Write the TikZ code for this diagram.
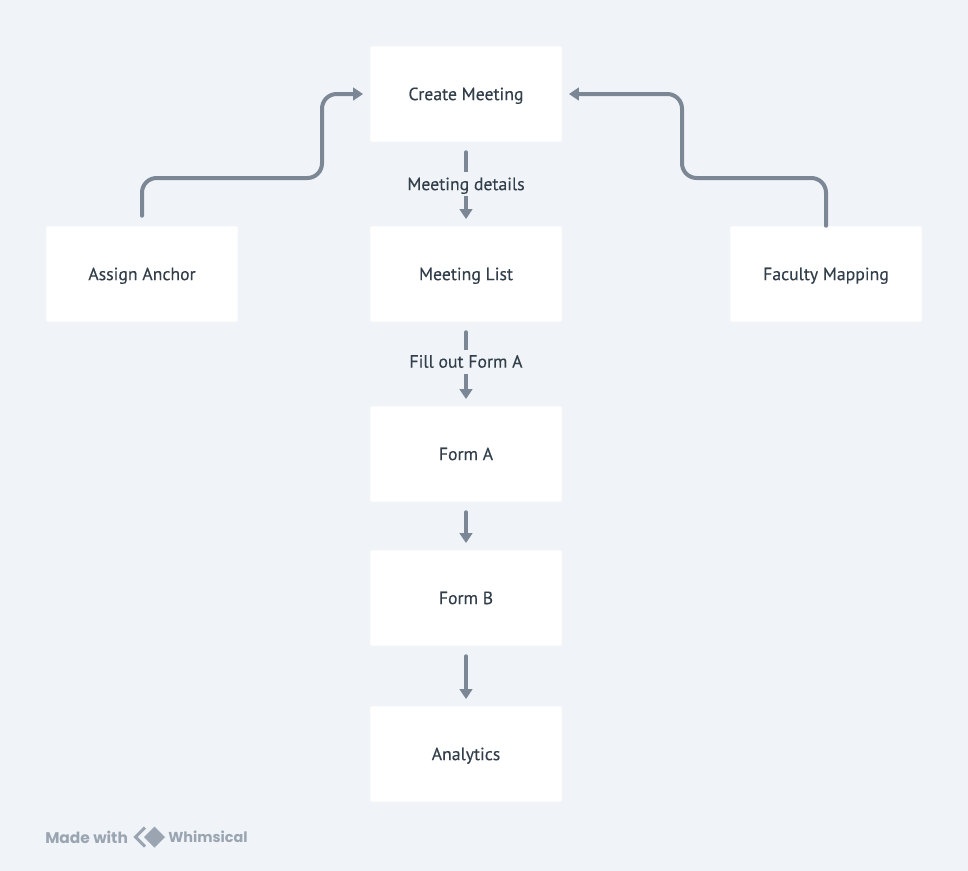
\documentclass[tikz,border=0pt]{standalone}
\usepackage{fontspec}
\setmainfont{PT Sans}
\newfontfamily\logofont{Poppins}
\usetikzlibrary{arrows.meta}
\definecolor{pagebg}{HTML}{F0F4F8}
\definecolor{linkcol}{HTML}{7B8794}
\definecolor{textcol}{HTML}{323F4B}
\definecolor{logocol}{HTML}{9AA5B1}
\newcommand{\boxfont}{\addfontfeature{FakeBold=0.25}\fontsize{13.3}{15}\selectfont}
\begin{document}
\begin{tikzpicture}[x=0.75pt,y=-0.75pt,
		box/.style={rectangle,fill=white,draw=black!4,line width=0.4pt,rounded corners=1.5pt,
			minimum width=144pt,minimum height=72pt,inner sep=0pt,text=textcol,
			text height=9.2pt,text depth=0pt,font=\boxfont},
		link/.style={draw=linkcol,line width=3pt,line cap=round,
			-{Triangle[length=7.5pt,width=9.5pt]},shorten >=5pt},
		linklabel/.style={fill=pagebg,inner xsep=0pt,inner ysep=0pt,minimum height=18pt,
			text=textcol,text height=9.2pt,text depth=0pt,font=\boxfont},
		logotext/.style={text=logocol,inner sep=0pt,font=\logofont\bfseries\fontsize{11.6}{14}\selectfont}]
	\useasboundingbox (0,0) rectangle (968,871);
	\fill[pagebg] (0,0) rectangle (968,871);

	\node [box] (create) at (466,94) {Create Meeting};
	\node [box] (list) at (466,274) {Meeting List};
	\node [box] (assign) at (142,274) {Assign Anchor};
	\node [box] (faculty) at (826,274) {Faculty Mapping};
	\node [box] (forma) at (466,454) {Form A};
	\node [box] (formb) at (466,598) {Form B};
	\node [box] (analytics) at (466,754) {Analytics};

	\coordinate (bendassign) at (322,178);
	\coordinate (bendfaculty) at (682,178);

	\draw [link,rounded corners=11pt,shorten <=7.5pt] (assign.north) |- (bendassign) |- (create.west);
	\draw [link,rounded corners=11pt] (faculty.north) |- (bendfaculty) |- (create.east);
	\draw [link,shorten <=7.5pt] (create.south) -- node [linklabel] {Meeting details} (list.north);
	\draw [link,shorten <=7.5pt] (list.south) -- node [linklabel,pos=0.47] {Fill out Form A} (forma.north);
	\draw [link,shorten <=7.5pt] (forma.south) -- (formb.north);
	\draw [link,shorten <=7.5pt] (formb.south) -- (analytics.north);

	% logo
	\node [logotext,anchor=west] (madewith) at (45,837) {Made with};
	\node [logotext,anchor=west,font=\logofont\bfseries\fontsize{10.8}{14}\selectfont] (whimsical) at (168,837) {Whimsical};
	\fill [logocol] (154.5,826.5) -- (165,837) -- (154.5,847.5) -- (144,837) -- cycle;
	\draw [logocol,line width=2.2pt,line join=miter] (145,827.5) -- (135.5,837) -- (145,846.5);
\end{tikzpicture}
\end{document}
